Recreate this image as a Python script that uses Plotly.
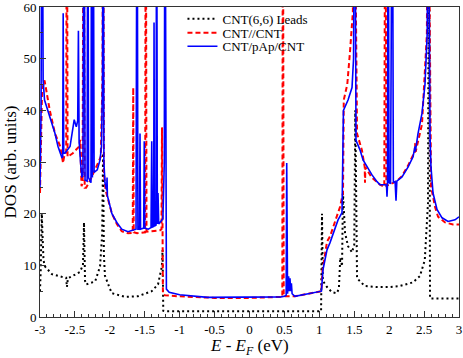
import plotly.graph_objects as go

# ---- data ----
leads_x = [-3.0, -2.99, -2.975, -2.965, -2.95, -2.93, -2.83, -2.67, -2.625, -2.615, -2.60, -2.54, -2.43,
           -2.385, -2.37, -2.355, -2.34, -2.21, -2.14, -2.11, -2.097, -2.085, -2.07, -2.0, -1.97, -1.78,
           -1.6, -1.40, -1.31, -1.255, -1.245, -1.235, -1.2, -0.5, 0.0, 0.5, 1.025, 1.038, 1.05, 1.11,
           1.18, 1.25, 1.28, 1.30, 1.325, 1.339, 1.368, 1.411, 1.468, 1.50, 1.515, 1.54, 1.65, 1.83,
           2.0, 2.155, 2.34, 2.44, 2.51, 2.556, 2.57, 2.585, 2.7, 3.0]
leads_y = [5.0, 9.0, 20.0, 14.0, 11.0, 9.8, 8.3, 7.7, 7.6, 5.8, 7.5, 7.9, 8.7,
           10.0, 18.3, 7.0, 6.3, 6.9, 9.8, 16.0, 31.7, 12.0, 8.0, 5.5, 4.6, 3.9,
           4.0, 5.0, 6.3, 9.8, 13.0, 1.2, 1.1, 1.1, 1.1, 1.1, 1.1, 20.0, 7.0, 5.8,
           4.8, 4.6, 5.5, 11.5, 9.8, 24.0, 16.3, 13.7, 12.5, 14.0, 40.0, 7.5, 6.0, 5.8,
           5.8, 6.0, 6.7, 7.9, 11.0, 22.0, 90.0, 3.6, 3.6, 3.6]

cc_x = [-3.0, -2.985, -2.97, -2.935, -2.86, -2.785, -2.71, -2.685, -2.67, -2.655, -2.625, -2.615, -2.605,
        -2.53, -2.44, -2.425, -2.415, -2.405, -2.39, -2.375, -2.36, -2.34, -2.28, -2.21, -2.13, -2.115,
        -2.105, -2.095, -2.085, -2.06, -2.0, -1.97, -1.9, -1.83, -1.74, -1.672, -1.665, -1.658, -1.61,
        -1.52, -1.495, -1.485, -1.475, -1.40, -1.28, -1.26, -1.253, -1.24, -1.21, -1.0, -0.5, 0.0, 0.45,
        0.47, 0.478, 0.49, 0.55, 0.65, 1.03, 1.045, 1.11, 1.153, 1.296, 1.339, 1.35, 1.40, 1.44, 1.48,
        1.497, 1.54, 1.61, 1.65, 1.654, 1.66, 1.75, 1.869, 1.93, 1.945, 1.96, 2.0, 2.1, 2.184, 2.27,
        2.342, 2.365, 2.37, 2.38, 2.47, 2.54, 2.556, 2.6, 2.657, 2.70, 2.8, 2.914, 3.0]
cc_y = [24.0, 35.0, 44.0, 45.8, 40.0, 35.5, 33.0, 31.0, 29.8, 31.0, 32.0, 100.0, 31.0,
        31.7, 33.0, 34.3, 30.0, 25.3, 26.0, 100.0, 25.0, 25.0, 26.5, 28.5, 31.0, 40.0,
        47.0, 100.0, 28.0, 24.5, 21.5, 20.0, 18.0, 16.6, 16.2, 16.3, 44.4, 16.4, 16.2,
        16.3, 16.4, 100.0, 16.5, 16.6, 16.8, 17.0, 36.7, 4.5, 4.2, 4.0, 3.7, 3.7, 3.8,
        3.9, 100.0, 4.0, 4.0, 4.0, 5.0, 9.0, 14.6, 15.6, 21.3, 24.0, 42.0, 45.0, 51.5, 59.0,
        100.0, 35.5, 32.3, 29.0, 26.0, 29.0, 27.0, 25.6, 25.2, 100.0, 25.4, 25.6, 26.2, 27.3, 29.3,
        31.3, 31.5, 33.6, 32.0, 37.3, 54.8, 100.0, 25.2, 21.3, 19.4, 18.3, 17.9, 17.9]

pap_x = [-3.0, -2.985, -2.97, -2.955, -2.935, -2.857, -2.785, -2.742, -2.70, -2.685, -2.675, -2.668,
         -2.66, -2.642, -2.57, -2.51, -2.48, -2.46, -2.45, -2.44, -2.42, -2.40, -2.385, -2.37, -2.355,
         -2.325, -2.315, -2.305, -2.27, -2.26, -2.25, -2.24, -2.225, -2.18, -2.14, -2.12, -2.105, -2.095,
         -2.085, -2.07, -2.045, -2.04, -2.035, -2.0, -1.97, -1.90, -1.83, -1.74, -1.68, -1.625, -1.61,
         -1.598, -1.575, -1.568, -1.56, -1.515, -1.507, -1.50, -1.45, -1.41, -1.40, -1.39, -1.372, -1.367,
         -1.36, -1.338, -1.33, -1.32, -1.31, -1.30, -1.24, -1.22, -1.21, -1.2, -1.19, -1.15, -1.0, -0.6,
         -0.1, 0.45, 0.5, 0.525, 0.533, 0.545, 0.56, 0.57, 0.58, 0.59, 0.60, 0.61, 0.65, 1.03, 1.053,
         1.11, 1.153, 1.268, 1.325, 1.335, 1.345, 1.411, 1.468, 1.49, 1.508, 1.525, 1.583, 1.626, 1.683,
         1.754, 1.826, 1.869, 1.941, 1.962, 1.969, 1.976, 1.985, 1.998, 2.02, 2.045, 2.06, 2.085, 2.098,
         2.11, 2.184, 2.27, 2.342, 2.365, 2.37, 2.375, 2.413, 2.47, 2.513, 2.545, 2.556, 2.585, 2.599,
         2.628, 2.685, 2.757, 2.843, 2.943, 3.0]
pap_y = [25.0, 40.0, 100.0, 45.8, 42.0, 38.7, 35.5, 33.0, 31.3, 30.8, 31.0, 58.8,
         31.7, 31.7, 33.0, 38.2, 36.8, 38.0, 55.4, 34.0, 30.0, 27.0, 27.5, 100.0, 26.5,
         26.3, 100.0, 27.0, 26.0, 100.0, 27.0, 100.0, 28.0, 28.5, 30.4, 33.0, 45.0, 100.0,
         30.0, 26.0, 24.5, 27.0, 23.5, 21.5, 20.0, 18.3, 17.0, 16.5, 16.8, 17.0, 100.0,
         17.0, 17.0, 35.5, 17.0, 17.2, 34.0, 17.2, 17.0, 17.3, 34.0, 17.4, 17.5, 57.0,
         17.6, 17.8, 100.0, 18.0, 24.0, 18.0, 19.0, 30.0, 100.0, 8.0, 5.4, 4.8, 4.3, 3.8,
         3.8, 3.9, 4.0, 4.2, 29.8, 4.5, 7.9, 5.0, 7.5, 5.0, 6.5, 4.5, 4.0, 5.0, 9.2,
         13.0, 14.4, 18.8, 20.2, 28.0, 40.0, 42.0, 44.4, 50.0, 100.0, 34.2, 32.3, 30.4, 29.0,
         27.5, 26.2, 25.6, 25.6, 25.5, 23.3, 25.6, 100.0, 26.0, 25.8, 100.0, 26.0, 26.2, 22.5,
         26.3, 27.1, 29.0, 31.0, 32.2, 33.0, 32.0, 35.5, 39.4, 45.0, 55.0, 100.0, 35.0, 29.0,
         24.0, 20.8, 19.2, 18.5, 18.8, 19.4]

names = ["CNT(6,6) Leads", "CNT//CNT", "CNT/pAp/CNT"]
x_tickvals = [-3, -2.5, -2, -1.5, -1, -0.5, 0, 0.5, 1, 1.5, 2, 2.5, 3]
x_ticktext = ["-3", "-2.5", "-2", "-1.5", "-1", "-0.5", "0", "0.5", "1", "1.5", "2", "2.5", "3"]
y_tickvals = [0, 10, 20, 30, 40, 50, 60]

SERIF = "Liberation Serif, Times New Roman, serif"

fig = go.Figure()
fig.add_trace(go.Scatter(x=leads_x, y=leads_y, mode="lines", name=names[0], legend="legend",
                         line=dict(color="black", width=2, dash="2px,3px")))
fig.add_trace(go.Scatter(x=cc_x, y=cc_y, mode="lines", name=names[1], legend="legend2",
                         line=dict(color="#ff0000", width=2, dash="5px,3px")))
fig.add_trace(go.Scatter(x=pap_x, y=pap_y, mode="lines", name=names[2], legend="legend3",
                         line=dict(color="#0000ff", width=1.6)))

axis_common = dict(showline=True, linecolor="#333333", linewidth=1, mirror=True,
                   ticks="inside", ticklen=6, tickcolor="#333333", showgrid=False,
                   zeroline=False, automargin=False, ticklabeloverflow="allow",
                   tickfont=dict(family=SERIF, size=13, color="black"))

fig.update_xaxes(range=[-3, 3], tickvals=x_tickvals, ticktext=x_ticktext,
                 minor=dict(dtick=0.1, ticks="inside", ticklen=3, tickcolor="#333333"),
                 **axis_common)
fig.update_yaxes(range=[0, 60], tickvals=y_tickvals,
                 minor=dict(dtick=5, ticks="inside", ticklen=3, tickcolor="#333333"),
                 title=dict(text="DOS (arb. units)",
                            font=dict(family=SERIF, size=17, color="black"), standoff=2),
                 **axis_common)

fig.add_annotation(text="<i>E</i> - <i>E</i><sub><i>F</i></sub> (eV)",
                   xref="x", yref="paper", x=0, y=0, xanchor="center", yanchor="top",
                   yshift=-17, showarrow=False,
                   font=dict(family=SERIF, size=17, color="black"))

leg_common = dict(x=0.34, xanchor="left", yanchor="middle", bgcolor="rgba(0,0,0,0)",
                  font=dict(family=SERIF, size=13, color="black"), itemwidth=30,
                  borderwidth=0)
fig.update_layout(
    width=463, height=358,
    margin=dict(l=40, r=4, t=5, b=41),
    paper_bgcolor="white", plot_bgcolor="white",
    showlegend=True,
    legend=dict(y=0.962, **leg_common),
    legend2=dict(y=0.917, **leg_common),
    legend3=dict(y=0.873, **leg_common),
)

fig.write_html("out.html", config={"displayModeBar": False},
               post_script="document.body.style.margin='0';")
